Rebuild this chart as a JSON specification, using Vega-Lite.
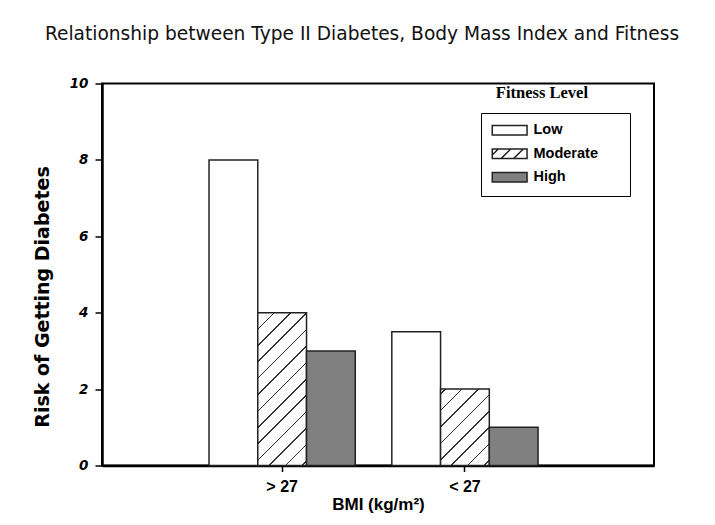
{
  "$schema": "https://vega.github.io/schema/vega-lite/v6.json",
  "width": 552,
  "height": 382,
  "autosize": "none",
  "padding": {"left": 102, "top": 83.5, "right": 61, "bottom": 59.5},
  "background": "white",
  "title": {
    "text": "Relationship between Type II Diabetes, Body Mass Index and Fitness",
    "font": "DejaVu Sans",
    "fontSize": 18.6,
    "fontWeight": "normal",
    "color": "#111",
    "anchor": "middle",
    "dx": -16,
    "offset": 33
  },
  "config": {
    "view": {"stroke": "#000", "strokeWidth": 2},
    "axis": {"grid": false}
  },
  "data": {
    "values": [
      {"bmi": "> 27", "fitness": "Low", "risk": 8},
      {"bmi": "> 27", "fitness": "Moderate", "risk": 4},
      {"bmi": "> 27", "fitness": "High", "risk": 3},
      {"bmi": "< 27", "fitness": "Low", "risk": 3.5},
      {"bmi": "< 27", "fitness": "Moderate", "risk": 2},
      {"bmi": "< 27", "fitness": "High", "risk": 1}
    ]
  },
  "layer": [
    {
      "mark": {"type": "bar", "stroke": "#222", "strokeWidth": 1.5},
      "encoding": {
        "x": {
          "field": "bmi",
          "type": "nominal",
          "scale": {"domain": ["> 27", "< 27"], "paddingInner": 0.2, "paddingOuter": 0.61, "align": 0.48},
          "axis": {
            "title": "BMI (kg/m²)",
            "domainColor": "#000",
            "domainWidth": 2.5,
            "tickColor": "#000",
            "tickWidth": 1.5,
            "tickSize": 6,
            "labelAngle": 0,
            "labelFont": "Liberation Sans",
            "labelFontWeight": "bold",
            "labelFontSize": 16,
            "labelColor": "#000",
            "labelPadding": 7,
            "titleFont": "Liberation Sans",
            "titleFontWeight": "bold",
            "titleFontSize": 17,
            "titleColor": "#000",
            "titlePadding": 2
          }
        },
        "xOffset": {
          "field": "fitness",
          "type": "nominal",
          "scale": {"domain": ["Low", "Moderate", "High"], "paddingInner": 0, "paddingOuter": 0}
        },
        "y": {
          "field": "risk",
          "type": "quantitative",
          "scale": {"domain": [0, 10], "nice": false},
          "axis": {
            "title": "Risk of Getting Diabetes",
            "values": [0, 2, 4, 6, 8, 10],
            "domainColor": "#000",
            "domainWidth": 2.5,
            "tickColor": "#000",
            "tickWidth": 1.5,
            "tickSize": 7,
            "labelFont": "DejaVu Sans",
            "labelFontWeight": "bold",
            "labelFontStyle": "italic",
            "labelFontSize": 13.5,
            "labelPadding": 7,
            "labelColor": "#000",
            "titleFont": "DejaVu Sans",
            "titleFontWeight": "bold",
            "titleFontSize": 19,
            "titleColor": "#000",
            "titleX": -60,
            "titleY": 213,
            "titleBaseline": "middle",
            "titleAlign": "center",
            "titleAngle": -90
          }
        },
        "fill": {
          "condition": [
            {"test": "datum.fitness === 'Moderate' && datum.bmi === '> 27'",
             "value": {"gradient": "linear", "x1": 0, "y1": 0, "x2": 0.3815, "y2": 1.197,
               "stops": [
                 {"offset": 0, "color": "white"},
                 {"offset": 0.0777, "color": "white"}, {"offset": 0.0777, "color": "#333"}, {"offset": 0.0851, "color": "#333"}, {"offset": 0.0851, "color": "white"},
                 {"offset": 0.1591, "color": "white"}, {"offset": 0.1591, "color": "#333"}, {"offset": 0.1665, "color": "#333"}, {"offset": 0.1665, "color": "white"},
                 {"offset": 0.2405, "color": "white"}, {"offset": 0.2405, "color": "#333"}, {"offset": 0.2479, "color": "#333"}, {"offset": 0.2479, "color": "white"},
                 {"offset": 0.3218, "color": "white"}, {"offset": 0.3218, "color": "#333"}, {"offset": 0.3293, "color": "#333"}, {"offset": 0.3293, "color": "white"},
                 {"offset": 0.4032, "color": "white"}, {"offset": 0.4032, "color": "#333"}, {"offset": 0.4107, "color": "#333"}, {"offset": 0.4107, "color": "white"},
                 {"offset": 0.4846, "color": "white"}, {"offset": 0.4846, "color": "#333"}, {"offset": 0.4921, "color": "#333"}, {"offset": 0.4921, "color": "white"},
                 {"offset": 0.5660, "color": "white"}, {"offset": 0.5660, "color": "#333"}, {"offset": 0.5735, "color": "#333"}, {"offset": 0.5735, "color": "white"},
                 {"offset": 0.6474, "color": "white"}, {"offset": 0.6474, "color": "#333"}, {"offset": 0.6548, "color": "#333"}, {"offset": 0.6548, "color": "white"},
                 {"offset": 0.7288, "color": "white"}, {"offset": 0.7288, "color": "#333"}, {"offset": 0.7362, "color": "#333"}, {"offset": 0.7362, "color": "white"},
                 {"offset": 0.8102, "color": "white"}, {"offset": 0.8102, "color": "#333"}, {"offset": 0.8176, "color": "#333"}, {"offset": 0.8176, "color": "white"},
                 {"offset": 0.8916, "color": "white"}, {"offset": 0.8916, "color": "#333"}, {"offset": 0.8990, "color": "#333"}, {"offset": 0.8990, "color": "white"},
                 {"offset": 0.9730, "color": "white"}, {"offset": 0.9730, "color": "#333"}, {"offset": 0.9804, "color": "#333"}, {"offset": 0.9804, "color": "white"},
                 {"offset": 1, "color": "white"}
               ]}},
            {"test": "datum.fitness === 'Moderate' && datum.bmi === '< 27'",
             "value": {"gradient": "linear", "x1": 0, "y1": 0, "x2": 0.7422, "y2": 1.1643,
               "stops": [
                 {"offset": 0, "color": "white"},
                 {"offset": 0.0340, "color": "white"}, {"offset": 0.0340, "color": "#333"}, {"offset": 0.0460, "color": "#333"}, {"offset": 0.0460, "color": "white"},
                 {"offset": 0.1651, "color": "white"}, {"offset": 0.1651, "color": "#333"}, {"offset": 0.1771, "color": "#333"}, {"offset": 0.1771, "color": "white"},
                 {"offset": 0.2962, "color": "white"}, {"offset": 0.2962, "color": "#333"}, {"offset": 0.3082, "color": "#333"}, {"offset": 0.3082, "color": "white"},
                 {"offset": 0.4273, "color": "white"}, {"offset": 0.4273, "color": "#333"}, {"offset": 0.4393, "color": "#333"}, {"offset": 0.4393, "color": "white"},
                 {"offset": 0.5584, "color": "white"}, {"offset": 0.5584, "color": "#333"}, {"offset": 0.5703, "color": "#333"}, {"offset": 0.5703, "color": "white"},
                 {"offset": 0.6895, "color": "white"}, {"offset": 0.6895, "color": "#333"}, {"offset": 0.7014, "color": "#333"}, {"offset": 0.7014, "color": "white"},
                 {"offset": 0.8205, "color": "white"}, {"offset": 0.8205, "color": "#333"}, {"offset": 0.8325, "color": "#333"}, {"offset": 0.8325, "color": "white"},
                 {"offset": 0.9516, "color": "white"}, {"offset": 0.9516, "color": "#333"}, {"offset": 0.9636, "color": "#333"}, {"offset": 0.9636, "color": "white"},
                 {"offset": 1, "color": "white"}
               ]}},
            {"test": "datum.fitness === 'High'", "value": "#808080"}
          ],
          "value": "white"
        }
      }
    },
    {
      "mark": {"type": "point", "filled": true, "opacity": 0, "stroke": "#222", "strokeWidth": 1.2},
      "encoding": {
        "x": {"field": "bmi", "type": "nominal"},
        "xOffset": {"field": "fitness", "type": "nominal"},
        "y": {"field": "risk", "type": "quantitative"},
        "fill": {
          "field": "fitness",
          "type": "nominal",
          "scale": {"domain": ["Low", "Moderate", "High"], "range": ["white", "white", "#808080"]},
          "legend": {
            "title": null,
            "orient": "none",
            "legendX": 379,
            "legendY": 29.5,
            "direction": "vertical",
            "fillColor": "white",
            "strokeColor": "#000",
            "padding": 10,
            "symbolSize": 144,
            "symbolOpacity": 1,
            "labelFont": "Liberation Sans",
            "labelFontWeight": "bold",
            "labelFontSize": 14.5,
            "labelColor": "#000",
            "labelOffset": 28,
            "rowPadding": 6.5,
            "labelExpr": "datum.label + '\u2800\u2800'"
          }
        },
        "shape": {
          "field": "fitness",
          "type": "nominal",
          "scale": {
            "domain": ["Low", "Moderate", "High"],
            "range": [
              "M-1,-0.8H4.8V0.8H-1Z",
              "M-1,-0.8H4.8V0.8H-1Z M-1,0.2L0,-0.8 M0.483,0.8L2.083,-0.8 M2.567,0.8L4.167,-0.8",
              "M-1,-0.8H4.8V0.8H-1Z"
            ]
          },
          "legend": {
            "title": null,
            "orient": "none",
            "legendX": 379,
            "legendY": 29.5,
            "direction": "vertical",
            "fillColor": "white",
            "strokeColor": "#000",
            "padding": 10,
            "symbolSize": 144,
            "symbolOpacity": 1,
            "labelFont": "Liberation Sans",
            "labelFontWeight": "bold",
            "labelFontSize": 14.5,
            "labelColor": "#000",
            "labelOffset": 28,
            "rowPadding": 6.5,
            "labelExpr": "datum.label + '\u2800\u2800'"
          }
        }
      }
    },
    {
      "data": {"values": [{"label": "Fitness Level"}]},
      "mark": {"type": "text", "font": "Liberation Serif", "fontWeight": "bold", "fontSize": 16.5, "dx": 77, "baseline": "middle", "align": "center", "color": "#000"},
      "encoding": {
        "x": {"datum": "< 27", "type": "nominal"},
        "y": {"datum": 9.76, "type": "quantitative"},
        "text": {"field": "label"}
      }
    }
  ]
}
